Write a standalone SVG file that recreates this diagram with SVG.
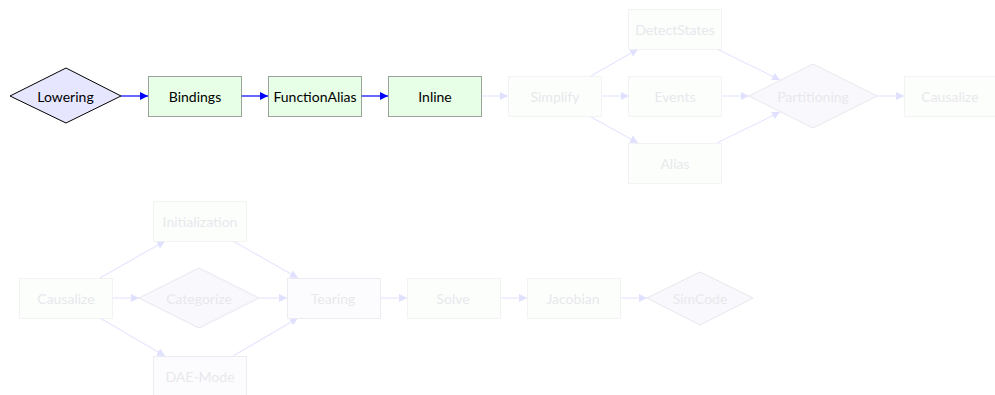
<svg xmlns="http://www.w3.org/2000/svg" width="995" height="395" viewBox="0 0 995 395">
<defs>
<style>
text{font-family:"Lato","DejaVu Sans",sans-serif;font-size:14px;text-anchor:middle;dominant-baseline:central}
.box{fill:#e6ffe6;stroke:#444;stroke-width:1;stroke-dasharray:1 1}
.dia{fill:#e6e6ff;stroke:#000;stroke-width:1}
.t{fill:#000}
.fbox{fill:#fcfefc;stroke:#e8e8e8;stroke-width:1;stroke-dasharray:1 1}
.fboxs{fill:#fcfcfe;stroke:#ececf2;stroke-width:1}
.fdia{fill:#f9f9fd;stroke:#e6e6ee;stroke-width:1}
.ft{fill:#e8e8ec}
.a{stroke:#0000ff;stroke-width:1.2;fill:none;marker-end:url(#ab)}
.fa{stroke:#e6e6ff;stroke-width:1.2;fill:none;marker-end:url(#af)}
</style>
<marker id="ab" viewBox="0 0 10 10" refX="10" refY="5" markerWidth="8" markerHeight="8" markerUnits="userSpaceOnUse" orient="auto"><path d="M0,0L10,5L0,10z" fill="#0000ff"/></marker>
<marker id="af" viewBox="0 0 10 10" refX="10" refY="5" markerWidth="8" markerHeight="8" markerUnits="userSpaceOnUse" orient="auto"><path d="M0,0L10,5L0,10z" fill="#e0e0ff"/></marker>
</defs>
<rect width="995" height="395" fill="#fff"/>
<g id="connectors">
<line class="a" x1="121" y1="96" x2="148" y2="96"/>
<line class="a" x1="241" y1="96" x2="268" y2="96"/>
<line class="a" x1="361" y1="96" x2="388" y2="96"/>
<line class="fa" x1="481" y1="96" x2="508" y2="96"/>
<line class="fa" x1="591" y1="76" x2="638" y2="49"/>
<line class="fa" x1="602" y1="96" x2="629" y2="96"/>
<line class="fa" x1="591" y1="117" x2="638" y2="143"/>
<line class="fa" x1="717" y1="49" x2="780" y2="80"/>
<line class="fa" x1="721" y1="96" x2="749" y2="96"/>
<line class="fa" x1="717" y1="143" x2="780" y2="112"/>
<line class="fa" x1="877" y1="96" x2="904" y2="96"/>
<line class="fa" x1="100" y1="278" x2="165" y2="241"/>
<line class="fa" x1="112" y1="298" x2="139" y2="298"/>
<line class="fa" x1="100" y1="318" x2="165" y2="356"/>
<line class="fa" x1="233" y1="241" x2="298" y2="278"/>
<line class="fa" x1="259" y1="298" x2="287" y2="298"/>
<line class="fa" x1="233" y1="356" x2="298" y2="318"/>
<line class="fa" x1="380" y1="298" x2="407" y2="298"/>
<line class="fa" x1="499" y1="298" x2="527" y2="298"/>
<line class="fa" x1="619" y1="298" x2="647" y2="298"/>
</g>
<g id="lowering"><polygon class="dia" points="10,96 66,68 121,96 66,123"/><text class="t" x="65.5" y="96">Lowering</text></g>
<g id="bindings"><rect class="box" x="148.5" y="76.5" width="93" height="40"/><text class="t" x="195" y="96">Bindings</text></g>
<g id="functionalias"><rect class="box" x="268.5" y="76.5" width="93" height="40"/><text class="t" x="315" y="96">FunctionAlias</text></g>
<g id="inline"><rect class="box" x="388.5" y="76.5" width="93" height="40"/><text class="t" x="435" y="96">Inline</text></g>
<g id="simplify"><rect class="fbox" x="508.5" y="76.5" width="93" height="40"/><text class="ft" x="555" y="96">Simplify</text></g>
<g id="detectstates"><rect class="fbox" x="628.5" y="9.5" width="93" height="40"/><text class="ft" x="675" y="29">DetectStates</text></g>
<g id="events"><rect class="fbox" x="628.5" y="76.5" width="93" height="40"/><text class="ft" x="675" y="96">Events</text></g>
<g id="alias"><rect class="fbox" x="628.5" y="143.5" width="93" height="40"/><text class="ft" x="675" y="163">Alias</text></g>
<g id="partitioning"><polygon class="fdia" points="749,96 813,64 877,96 813,128"/><text class="ft" x="813" y="96">Partitioning</text></g>
<g id="causalize1"><rect class="fbox" x="904.5" y="76.5" width="93" height="40"/><text class="ft" x="950" y="96">Causalize</text></g>
<g id="causalize2"><rect class="fbox" x="19.5" y="278.5" width="93" height="40"/><text class="ft" x="66" y="298">Causalize</text></g>
<g id="initialization"><rect class="fbox" x="153.5" y="201.5" width="93" height="40"/><text class="ft" x="200" y="221">Initialization</text></g>
<g id="categorize"><polygon class="fdia" points="139,298 199,268 259,298 199,328"/><text class="ft" x="199" y="298">Categorize</text></g>
<g id="daemode"><rect class="fboxs" x="153.5" y="356.5" width="93" height="40"/><text class="ft" x="200" y="376">DAE-Mode</text></g>
<g id="tearing"><rect class="fboxs" x="287.5" y="278.5" width="93" height="40"/><text class="ft" x="333" y="298">Tearing</text></g>
<g id="solve"><rect class="fbox" x="407.5" y="278.5" width="93" height="40"/><text class="ft" x="453" y="298">Solve</text></g>
<g id="jacobian"><rect class="fbox" x="527.5" y="278.5" width="93" height="40"/><text class="ft" x="573" y="298">Jacobian</text></g>
<g id="simcode"><polygon class="fdia" points="647,298 700,272 753,298 700,325"/><text class="ft" x="700" y="298">SimCode</text></g>
</svg>
